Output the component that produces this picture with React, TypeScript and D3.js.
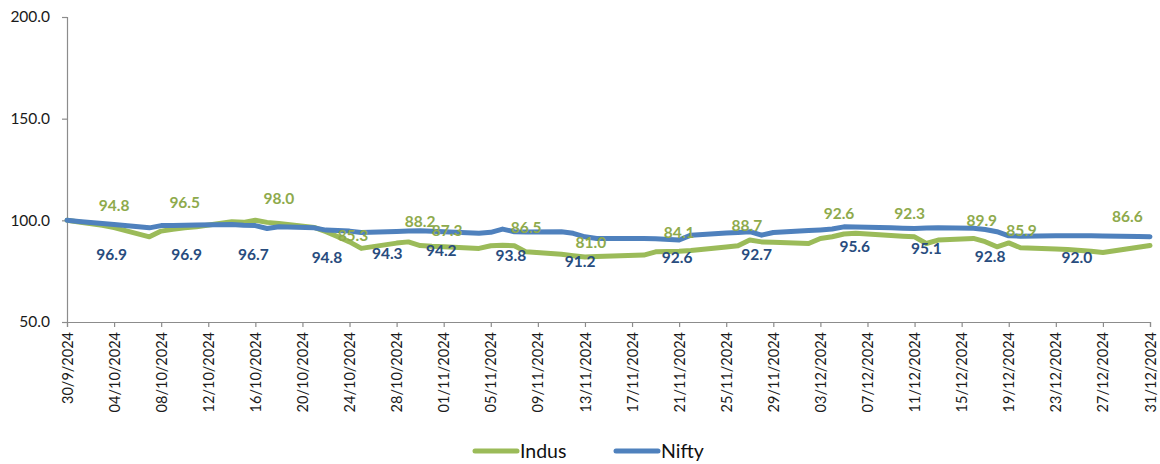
import { useEffect, useRef } from 'react'
import * as d3 from 'd3'

const DATES = [
  '2024-09-30', '2024-10-01', '2024-10-03', '2024-10-04', '2024-10-07', '2024-10-08', '2024-10-09',
  '2024-10-10', '2024-10-11', '2024-10-14', '2024-10-15', '2024-10-16', '2024-10-17', '2024-10-18',
  '2024-10-21', '2024-10-22', '2024-10-23', '2024-10-24', '2024-10-25', '2024-10-28', '2024-10-29',
  '2024-10-30', '2024-10-31', '2024-11-01', '2024-11-04', '2024-11-05', '2024-11-06', '2024-11-07',
  '2024-11-08', '2024-11-11', '2024-11-12', '2024-11-13', '2024-11-14', '2024-11-18', '2024-11-19',
  '2024-11-21', '2024-11-22', '2024-11-25', '2024-11-26', '2024-11-27', '2024-11-28', '2024-11-29',
  '2024-12-02', '2024-12-03', '2024-12-04', '2024-12-05', '2024-12-06', '2024-12-09', '2024-12-10',
  '2024-12-11', '2024-12-12', '2024-12-13', '2024-12-16', '2024-12-17', '2024-12-18', '2024-12-19',
  '2024-12-20', '2024-12-23', '2024-12-24', '2024-12-26', '2024-12-27', '2024-12-30', '2024-12-31',
]

const INDUS = [
  100, 99.2, 97.6, 96.4, 91.9, 94.7, 95.6,
  96.3, 96.8, 99.3, 99.0, 100.0, 99.0, 98.5,
  96.5, 94.4, 92.0, 89.4, 86.2, 88.8, 89.4,
  87.6, 87.2, 87.0, 86.2, 87.5, 87.8, 87.5,
  84.5, 83.3, 82.6, 82.0, 82.2, 82.9, 84.5,
  84.8, 85.2, 86.9, 87.5, 90.3, 89.4, 89.2,
  88.6, 91.1, 91.9, 93.3, 93.6, 92.5, 92.2,
  91.9, 88.6, 90.3, 91.1, 89.5, 87.0, 88.9,
  86.5, 85.9, 85.7, 84.8, 84.2, 86.8, 87.6,
]

const NIFTY = [
  100, 99.4, 98.4, 97.9, 96.3, 97.4, 97.5,
  97.6, 97.7, 98.0, 97.6, 97.4, 96.0, 96.8,
  96.3, 95.2, 95.0, 94.7, 94.0, 94.5, 94.7,
  94.9, 94.6, 94.4, 93.6, 94.1, 95.7, 94.4,
  94.3, 94.4, 93.6, 91.9, 91.1, 91.1, 91.0,
  90.3, 92.7, 93.8, 94.0, 94.4, 92.7, 94.0,
  95.0, 95.3, 95.7, 96.8, 96.7, 96.3, 96.1,
  96.0, 96.2, 96.3, 96.1, 95.5, 94.4, 92.4,
  92.2, 92.4, 92.4, 92.4, 92.3, 92.0, 91.9,
]

// data labels: [date hour, text, value where the label sits]
const INDUS_LABELS = [
  ['2024-10-04 00', '94.8', 107.5],
  ['2024-10-10 00', '96.5', 108.8],
  ['2024-10-18 00', '98.0', 110.5],
  ['2024-10-24 07', '85.3', 92.6],
  ['2024-10-30 00', '88.2', 99.3],
  ['2024-11-01 07', '87.3', 94.9],
  ['2024-11-08 00', '86.5', 96.5],
  ['2024-11-13 12', '81.0', 89.1],
  ['2024-11-21 00', '84.1', 94.1],
  ['2024-11-26 18', '88.7', 97.3],
  ['2024-12-04 14', '92.6', 103.1],
  ['2024-12-10 14', '92.3', 103.1],
  ['2024-12-16 17', '89.9', 99.8],
  ['2024-12-20 02', '85.9', 94.8],
  ['2024-12-29 02', '86.6', 101.7],
]

const NIFTY_LABELS = [
  ['2024-10-03 19', '96.9', 83.2],
  ['2024-10-10 04', '96.9', 83.2],
  ['2024-10-15 20', '96.7', 83.2],
  ['2024-10-22 02', '94.8', 81.5],
  ['2024-10-27 05', '94.3', 83.7],
  ['2024-10-31 19', '94.2', 85.3],
  ['2024-11-06 17', '93.8', 82.5],
  ['2024-11-12 14', '91.2', 79.9],
  ['2024-11-20 20', '92.6', 81.5],
  ['2024-11-27 14', '92.7', 83.2],
  ['2024-12-05 22', '95.6', 87.0],
  ['2024-12-12 00', '95.1', 86.2],
  ['2024-12-17 10', '92.8', 82.0],
  ['2024-12-24 19', '92.0', 81.5],
]

const Y_TICKS = [50, 100, 150, 200]

const GREEN = '#9BBB59'
const BLUE = '#4F81BD'
const GREEN_TEXT = '#8EAA4C'
const BLUE_TEXT = '#284C7E'
const FONT = 'Lato, "Open Sans", sans-serif'

export default function App() {
  const ref = useRef<SVGSVGElement>(null)

  useEffect(() => {
    if (!ref.current) return
    const width = 1160
    const height = 464
    const margin = { top: 17, right: 10, bottom: 142, left: 67 }

    const parseDay = d3.utcParse('%Y-%m-%d')
    const parseHour = d3.utcParse('%Y-%m-%d %H')
    const days = DATES.map((d) => parseDay(d) as Date)

    const svg = d3.select(ref.current)
    svg.selectAll('*').remove()
    svg.attr('width', width).attr('height', height)

    const x = d3
      .scaleUtc()
      .domain([days[0], days[days.length - 1]])
      .range([margin.left, width - margin.right])

    const y = d3
      .scaleLinear()
      .domain([50, 200])
      .range([height - margin.bottom, margin.top])

    // y axis
    const yAxis = svg
      .append('g')
      .attr('transform', `translate(${margin.left},0)`)
      .call(d3.axisLeft(y).tickValues(Y_TICKS).tickFormat(d3.format('.1f')).tickSizeOuter(0).tickSize(5).tickPadding(12))
    yAxis.select('.domain').attr('stroke', '#8c8c8c').attr('stroke-width', 1.2)
    yAxis.selectAll('.tick line').attr('stroke', '#8c8c8c').attr('stroke-width', 1.2)
    yAxis.selectAll('.tick text').attr('fill', '#1a1a1a').attr('font-size', '15.5px').attr('font-family', FONT)

    // x axis
    const xTicks = d3.utcDay.range(days[0], d3.utcDay.offset(days[days.length - 1], 1), 4)
    const xAxis = svg
      .append('g')
      .attr('transform', `translate(0,${y(50)})`)
      .call(d3.axisBottom(x).tickValues(xTicks).tickFormat(d3.utcFormat('%d/%-m/%Y') as any).tickSizeOuter(0).tickSize(5))
    xAxis.select('.domain').attr('stroke', '#8c8c8c').attr('stroke-width', 1.2)
    xAxis.selectAll('.tick line').attr('stroke', '#8c8c8c').attr('stroke-width', 1.2)
    xAxis
      .selectAll('.tick text')
      .attr('fill', '#1a1a1a')
      .attr('font-size', '14.5px')
      .attr('font-family', FONT)
      .attr('text-anchor', 'end')
      .attr('transform', 'rotate(-90)')
      .attr('x', -10)
      .attr('y', 0)
      .attr('dy', '0.35em')

    const line = d3
      .line<number>()
      .x((_, i) => x(days[i]))
      .y((d) => y(d))

    const series = [
      { name: 'Indus', values: INDUS, color: GREEN },
      { name: 'Nifty', values: NIFTY, color: BLUE },
    ]

    series.forEach((s) => {
      svg
        .append('path')
        .datum(s.values)
        .attr('fill', 'none')
        .attr('stroke', s.color)
        .attr('stroke-width', 5)
        .attr('stroke-linejoin', 'round')
        .attr('stroke-linecap', 'round')
        .attr('d', line)
    })

    const drawLabels = (labels: any[], color: string) => {
      svg
        .append('g')
        .selectAll('text')
        .data(labels)
        .enter()
        .append('text')
        .attr('x', (d) => x(parseHour(d[0]) as Date))
        .attr('y', (d) => y(d[2]))
        .attr('dy', '0.35em')
        .attr('text-anchor', 'middle')
        .attr('fill', color)
        .attr('font-family', FONT)
        .attr('font-weight', 700)
        .attr('font-size', '15.5px')
        .text((d) => d[1])
    }
    drawLabels(INDUS_LABELS, GREEN_TEXT)
    drawLabels(NIFTY_LABELS, BLUE_TEXT)

    // legend
    const legend = svg.append('g').attr('transform', `translate(${width / 2 - 107},451)`)
    series.forEach((s, i) => {
      const g = legend.append('g').attr('transform', `translate(${i * 141},0)`)
      g.append('line')
        .attr('x1', 2)
        .attr('x2', 44)
        .attr('stroke', s.color)
        .attr('stroke-width', 5)
        .attr('stroke-linecap', 'round')
      g.append('text')
        .attr('x', 47)
        .attr('dy', '0.35em')
        .attr('fill', '#111')
        .attr('font-family', FONT)
        .attr('font-size', '19.5px')
        .text(s.name)
    })
  }, [])

  return (
    <div style={{ position: 'absolute', left: 0, top: 0, width: 1160, height: 464, background: '#fff' }}>
      <svg ref={ref} style={{ display: 'block' }} />
    </div>
  )
}
